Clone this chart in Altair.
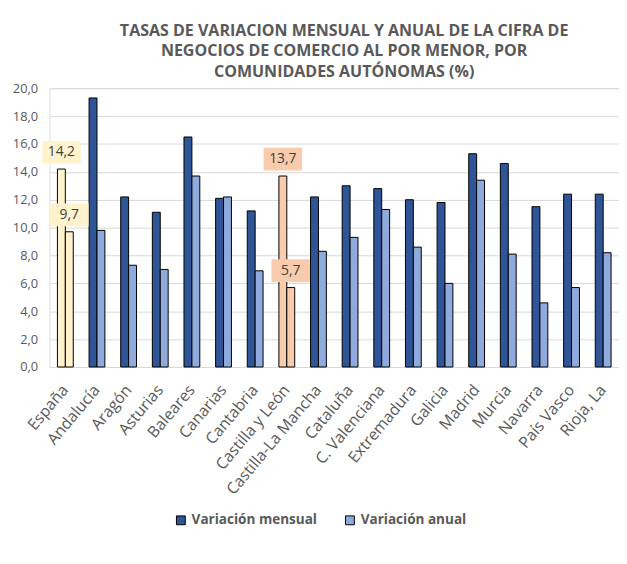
import altair as alt
import pandas as pd

categorias = ["España", "Andalucía", "Aragón", "Asturias", "Baleares", "Canarias",
              "Cantabria", "Castilla y León", "Castilla-La Mancha", "Cataluña",
              "C. Valenciana", "Extremadura", "Galicia", "Madrid", "Murcia",
              "Navarra", "País Vasco", "Rioja, La"]
mensual = [14.2, 19.3, 12.2, 11.1, 16.5, 12.1, 11.2, 13.7, 12.2, 13.0,
           12.8, 12.0, 11.8, 15.3, 14.6, 11.5, 12.4, 12.4]
anual = [9.7, 9.8, 7.3, 7.0, 13.7, 12.2, 6.9, 5.7, 8.3, 9.3,
         11.3, 8.6, 6.0, 13.4, 8.1, 4.6, 5.7, 8.2]
series = ["Variación mensual", "Variación anual"]
destacadas = ["España", "Castilla y León"]

colores_series = {"Variación mensual": "#2F5597", "Variación anual": "#8FAADC"}
colores_destacadas = {"España": "#FFF2CC", "Castilla y León": "#F8CBAD"}

rows = []
for c, m, a in zip(categorias, mensual, anual):
    for s, v in zip(series, [m, a]):
        key = f"{c}|{s}" if c in destacadas else s
        rows.append({"cat": c, "serie": s, "valor": v, "key": key,
                     "box": colores_destacadas.get(c, "")})
df = pd.DataFrame(rows)

dom = list(series)
rng = [colores_series[s] for s in series]
for c in destacadas:
    for s in series:
        dom.append(f"{c}|{s}")
        rng.append(colores_destacadas[c])

FONT = "Open Sans"
GRAY = "#595959"

x = alt.X("cat:N", sort=categorias, title=None,
          scale=alt.Scale(paddingInner=0.5, paddingOuter=0.25),
          axis=alt.Axis(labelAngle=-50, labelAlign="right", labelBaseline="middle",
                        labelFontSize=16, labelColor=GRAY, labelFont=FONT,
                        ticks=False, domain=False, labelPadding=20, grid=False,
                        labelOverlap=False, labelLimit=300))
xo = alt.XOffset("serie:N", sort=series)
y = alt.Y("valor:Q", title=None,
          scale=alt.Scale(domain=[0, 20], nice=False),
          axis=alt.Axis(tickCount=10,
                        labelExpr="replace(format(datum.value, '.1f'), '.', ',')",
                        labelFontSize=13, labelColor=GRAY, labelFont=FONT,
                        ticks=False, domain=False, labelPadding=12,
                        labelOverlap=False,
                        gridColor="#D9D9D9", gridWidth=1))

base = alt.Chart(df)

bars = base.mark_bar(stroke="#000000", strokeWidth=1).encode(
    x=x, xOffset=xo, y=y,
    color=alt.Color("key:N", scale=alt.Scale(domain=dom, range=rng),
                    legend=alt.Legend(values=series, title=None, orient="none",
                                      direction="horizontal", legendX=126, legendY=430,
                                      labelFontSize=13.7, labelFontWeight="bold",
                                      labelColor=GRAY, labelFont=FONT,
                                      symbolType="square", symbolSize=80,
                                      symbolStrokeColor="#000000", symbolStrokeWidth=1,
                                      columnPadding=26, labelOffset=4))
)

lab = base.transform_filter(
    alt.FieldOneOfPredicate(field="cat", oneOf=destacadas)
).transform_calculate(
    etiqueta="replace(format(datum.valor, '.1f'), '.', ',')"
)

boxes = lab.mark_point(
    shape="M-1.95,-2.85L1.95,-2.85L1.95,-0.55L-1.95,-0.55Z",
    filled=True, opacity=1, size=400, strokeWidth=0
).encode(
    x=x, xOffset=xo, y=y,
    fill=alt.Fill("box:N", scale=None)
)

texts = lab.mark_text(dy=-17, fontSize=14, color="#404040", font=FONT,
                      baseline="middle", align="center").encode(
    x=x, xOffset=xo, y=y,
    text="etiqueta:N"
)

chart = alt.layer(bars, boxes, texts).properties(
    width=576, height=282,
    title=alt.TitleParams(
        ["TASAS DE VARIACION MENSUAL Y ANUAL DE LA CIFRA DE",
         "NEGOCIOS DE COMERCIO AL POR MENOR, POR",
         "COMUNIDADES AUTÓNOMAS (%)"],
        fontSize=16.2, fontWeight="bold", color=GRAY, font=FONT,
        lineHeight=21, anchor="middle", dx=10, offset=2),
    autosize=alt.AutoSizeParams(type="none"),
    padding={"left": 42, "top": 78, "right": 0, "bottom": 185},
).configure_view(stroke=None).configure(background="white")

chart.save("out.html", embed_options={"renderer": "svg", "actions": False})
